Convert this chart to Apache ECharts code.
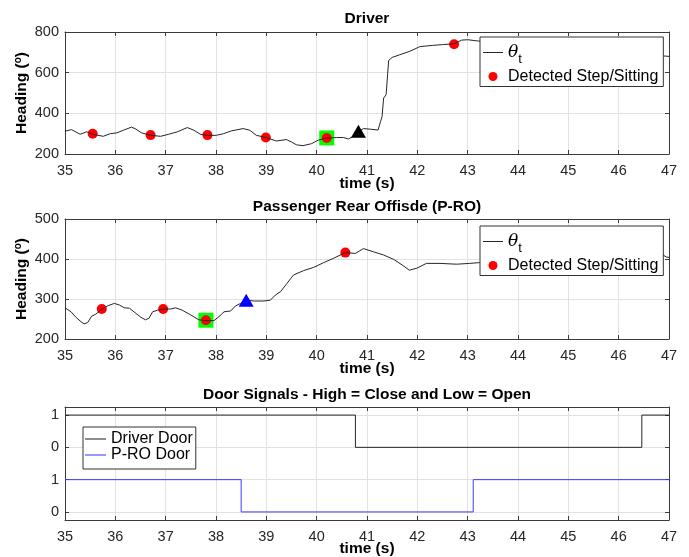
<!DOCTYPE html>
<html><head><meta charset="utf-8">
<script src="https://cdn.jsdelivr.net/npm/echarts@6.0.0/dist/echarts.min.js"></script>
<style>html,body{margin:0;padding:0;background:#fff}#c{width:689px;height:557px}</style>
</head><body><div id="c"></div>
<script>
// ---------- data ----------
const timeTicks = [35, 36, 37, 38, 39, 40, 41, 42, 43, 44, 45, 46, 47];
const driverHeadingTicks = [200, 400, 600, 800];
const passengerHeadingTicks = [200, 300, 400, 500];
const doorTickLabels = ['0', '1', '0', '1'];

const driverTime = [35.00,35.13,35.30,35.43,35.55,35.76,35.90,36.03,36.16,36.32,36.39,36.52,36.70,36.90,37.06,37.23,37.43,37.56,37.69,37.83,38.01,38.15,38.31,38.54,38.67,38.80,38.99,39.20,39.40,39.50,39.60,39.73,39.90,40.03,40.18,40.40,40.53,40.63,40.73,40.83,40.93,41.07,41.22,41.27,41.30,41.33,41.38,41.43,41.50,41.65,41.85,42.05,42.30,42.50,42.73,42.88,43.00,43.20,43.50,44.00,44.50,45.00,45.50,46.00,46.50,46.90,47.00];
const driverHeading = [312,320,297,309,297,287,300,304,317,332,325,304,292,287,297,309,330,317,297,291,292,300,314,325,317,292,281,264,271,259,245,241,251,268,278,281,281,274,287,310,325,322,318,360,385,475,492,660,675,688,705,728,734,738,742,760,762,756,750,742,735,725,712,700,688,682,680];

const passengerTime = [35.00,35.12,35.22,35.32,35.38,35.45,35.53,35.61,35.73,35.85,35.98,36.08,36.18,36.28,36.41,36.51,36.60,36.67,36.74,36.84,36.95,37.10,37.20,37.33,37.50,37.66,37.80,37.96,38.06,38.16,38.29,38.39,38.49,38.60,38.76,38.95,39.08,39.18,39.28,39.41,39.54,39.74,39.94,40.14,40.34,40.57,40.77,40.93,41.13,41.33,41.53,41.70,41.84,41.99,42.18,42.45,42.78,43.04,43.24,43.60,44.00,44.50,45.00,45.50,46.00,46.50,46.85,46.95,47.00];
const passengerHeading = [278,268,254,243,238,241,257,262,274,283,289,285,278,277,264,254,248,252,268,272,275,275,278,272,260,248,246,246,256,268,270,283,289,297,295,295,297,310,318,339,360,371,379,391,402,416,414,426,418,410,399,385,372,377,389,389,387,389,391,392,394,396,398,400,403,408,412,405,404];

const driverStepTime = [35.55, 36.70, 37.83, 38.99, 40.20, 42.73];
const driverStepHeading = [300, 293, 293, 281, 279, 740];
const driverSquareTime = [40.20];
const driverSquareHeading = [279];
const driverTriangleTime = [40.83];
const driverTriangleHeading = [312];

const passengerStepTime = [35.73, 36.95, 37.80, 40.57];
const passengerStepHeading = [275, 275, 247, 416];
const passengerSquareTime = [37.80];
const passengerSquareHeading = [247];
const passengerTriangleTime = [38.60];
const passengerTriangleHeading = [297];

const driverDoorTime = [35, 40.77, 46.46, 47];
const driverDoorState = [1, 0, 1, 1];
const proDoorTime = [35, 38.50, 43.11, 47];
const proDoorState = [1, 0, 1, 1];

// ---------- helpers ----------
const FONT = "'Liberation Sans', Arial, Helvetica, sans-serif";
const AX = '#3a3a3a';
const GRIDC = '#e2e2e2';
const TXT = '#262626';
const pair = (xs, ys, off) => xs.map((x, i) => [x, ys[i] + (off || 0)]);

const grids = [
  {left: 65, right: 20, top: 32, height: 122},
  {left: 65, right: 20, top: 219, height: 120},
  {left: 65, right: 20, top: 407, height: 113}
];

const xAxes = [], yAxes = [];
grids.forEach((g, gi) => {
  xAxes.push({
    type: 'value', gridIndex: gi, position: 'bottom', min: timeTicks[0], max: timeTicks[timeTicks.length - 1], interval: 1,
    axisLine: {show: true, onZero: false, lineStyle: {color: AX, width: 1}},
    axisTick: {show: true, inside: true, length: 4, lineStyle: {color: AX}},
    axisLabel: {margin: 9, fontSize: 14.5, fontFamily: FONT, color: TXT},
    splitLine: {show: true, lineStyle: {color: GRIDC, width: 1}}
  });
  xAxes.push({
    type: 'value', gridIndex: gi, position: 'top', min: timeTicks[0], max: timeTicks[timeTicks.length - 1], interval: 1,
    axisLine: {show: true, onZero: false, lineStyle: {color: AX, width: 1}},
    axisTick: {show: true, inside: true, length: 4, lineStyle: {color: AX}},
    axisLabel: {show: false}, splitLine: {show: false}
  });
});
const headingName = '{b|Heading (}{s|o}{b|)}';
const headingNameStyle = {
  fontFamily: FONT, color: '#000',
  rich: {
    b: {fontFamily: FONT, fontSize: 15.5, fontWeight: 'bold', color: '#000', lineHeight: 17, verticalAlign: 'bottom'},
    s: {fontFamily: FONT, fontSize: 10, fontWeight: 'bold', color: '#000', lineHeight: 17, verticalAlign: 'top'}
  }
};
const yTicksSets = [driverHeadingTicks, passengerHeadingTicks];
yTicksSets.forEach((t, gi) => {
  yAxes.push({
    type: 'value', gridIndex: gi, position: 'left', min: t[0], max: t[t.length - 1], interval: t[1] - t[0],
    name: headingName, nameLocation: 'middle', nameRotate: 90, nameGap: 35, nameMoveOverlap: false,
    nameTextStyle: headingNameStyle,
    axisLine: {show: true, onZero: false, lineStyle: {color: AX, width: 1}},
    axisTick: {show: true, inside: true, length: 4, lineStyle: {color: AX}},
    axisLabel: {margin: 6, fontSize: 14.5, fontFamily: FONT, color: TXT},
    splitLine: {show: true, lineStyle: {color: GRIDC, width: 1}}
  });
  yAxes.push({
    type: 'value', gridIndex: gi, position: 'right', min: t[0], max: t[t.length - 1], interval: t[1] - t[0],
    axisLine: {show: true, onZero: false, lineStyle: {color: AX, width: 1}},
    axisTick: {show: true, inside: true, length: 4, lineStyle: {color: AX}},
    axisLabel: {show: false}, splitLine: {show: false}
  });
});
const doorTickValues = [0, 1, 2, 3];
yAxes.push({
  type: 'value', gridIndex: 2, position: 'left', min: -0.25, max: 3.25,
  axisLine: {show: true, onZero: false, lineStyle: {color: AX, width: 1}},
  axisTick: {show: true, inside: true, length: 4, lineStyle: {color: AX}, customValues: doorTickValues},
  axisLabel: {margin: 6, fontSize: 14.5, fontFamily: FONT, color: TXT, customValues: doorTickValues,
    formatter: v => doorTickLabels[Math.round(v)]},
  splitLine: {show: true, lineStyle: {color: GRIDC, width: 1}}
});
yAxes.push({
  type: 'value', gridIndex: 2, position: 'right', min: -0.25, max: 3.25,
  axisLine: {show: true, onZero: false, lineStyle: {color: AX, width: 1}},
  axisTick: {show: true, inside: true, length: 4, lineStyle: {color: AX}, customValues: doorTickValues},
  axisLabel: {show: false}, splitLine: {show: false}
});

function headingSeries(gi, t, h, st, sh, sqt, sqh, trt, trh, triColor) {
  const xi = gi * 2, yi = gi * 2;
  return [
    {type: 'scatter', name: 'start', xAxisIndex: xi, yAxisIndex: yi, z: 2, symbol: 'rect', symbolSize: 15,
      itemStyle: {color: '#00ff00', opacity: 1}, data: pair(sqt, sqh)},
    {type: 'scatter', name: 'Detected Step/Sitting', xAxisIndex: xi, yAxisIndex: yi, z: 3, symbol: 'circle', symbolSize: 10,
      itemStyle: {color: '#ff0000', opacity: 1}, data: pair(st, sh)},
    {type: 'line', name: 'θt', xAxisIndex: xi, yAxisIndex: yi, z: 4, symbol: 'none', showSymbol: false, smooth: false,
      lineStyle: {color: '#262626', width: 1}, itemStyle: {color: '#262626'}, data: pair(t, h)},
    {type: 'scatter', name: 'event', xAxisIndex: xi, yAxisIndex: yi, z: 5, symbol: 'triangle', symbolSize: [15, 13],
      itemStyle: {color: triColor, opacity: 1}, data: pair(trt, trh)}
  ];
}

const series = [].concat(
  headingSeries(0, driverTime, driverHeading, driverStepTime, driverStepHeading, driverSquareTime, driverSquareHeading, driverTriangleTime, driverTriangleHeading, '#000000'),
  headingSeries(1, passengerTime, passengerHeading, passengerStepTime, passengerStepHeading, passengerSquareTime, passengerSquareHeading, passengerTriangleTime, passengerTriangleHeading, '#0000ff'),
  [
    {type: 'line', name: 'Driver Door', xAxisIndex: 4, yAxisIndex: 4, step: 'end', symbol: 'none', showSymbol: false,
      lineStyle: {color: '#262626', width: 1}, itemStyle: {color: '#262626'}, data: pair(driverDoorTime, driverDoorState, 2)},
    {type: 'line', name: 'P-RO Door', xAxisIndex: 4, yAxisIndex: 4, step: 'end', symbol: 'none', showSymbol: false,
      lineStyle: {color: '#3a3aff', width: 1}, itemStyle: {color: '#3a3aff'}, data: pair(proDoorTime, proDoorState, 0)}
  ]
);

const LINE_ICON = 'path://M0,0H20V1H0Z';
const legendRich = {
  th: {fontFamily: "'DejaVu Serif', 'Liberation Serif', serif", fontStyle: 'italic', fontSize: 17, color: '#000', lineHeight: 26, verticalAlign: 'middle'},
  sub: {fontFamily: FONT, fontSize: 13, color: '#000', lineHeight: 26, verticalAlign: 'bottom'},
  n: {fontFamily: FONT, fontSize: 16, color: '#000'}
};
const legendFmt = name => name === 'θt' ? '{th|θ}{sub|t}' : '{n|' + name + '}';
function headingLegend(top) {
  return {
    data: [{name: 'θt', icon: LINE_ICON}, {name: 'Detected Step/Sitting', icon: 'circle'}],
    orient: 'vertical', left: 480, top: top, z: 20,
    itemWidth: 20, itemHeight: 9, itemGap: 3, padding: [7, 5, 2, 3],
    backgroundColor: '#fff', borderColor: '#333', borderWidth: 1, borderRadius: 0,
    selectedMode: false, formatter: legendFmt,
    textStyle: {fontFamily: FONT, fontSize: 16, color: '#000', rich: legendRich}
  };
}

const timeLabelStyle = {fontFamily: FONT, fontSize: 15.5, fontWeight: 'bold', fill: '#000', align: 'center', verticalAlign: 'middle'};
const timeLabelY = [184, 369, 549];

const option = {
  animation: false,
  backgroundColor: '#fff',
  title: [
    {text: 'Driver', left: 367, top: 11, textAlign: 'center', padding: 0,
      textStyle: {fontFamily: FONT, fontSize: 15.5, fontWeight: 'bold', color: '#000'}},
    {text: 'Passenger Rear Offisde (P-RO)', left: 367, top: 199, textAlign: 'center', padding: 0,
      textStyle: {fontFamily: FONT, fontSize: 15.5, fontWeight: 'bold', color: '#000'}},
    {text: 'Door Signals - High = Close and Low = Open', left: 367, top: 387, textAlign: 'center', padding: 0,
      textStyle: {fontFamily: FONT, fontSize: 15.5, fontWeight: 'bold', color: '#000'}}
  ],
  grid: grids,
  xAxis: xAxes,
  yAxis: yAxes,
  graphic: timeLabelY.map(y => ({
    type: 'text', x: 367, y: y, z: 10,
    style: Object.assign({text: 'time (s)'}, timeLabelStyle)
  })),
  legend: [
    headingLegend(37),
    headingLegend(226),
    {
      data: [{name: 'Driver Door', icon: LINE_ICON}, {name: 'P-RO Door', icon: LINE_ICON}],
      orient: 'vertical', left: 83, top: 427, z: 20,
      itemWidth: 21, itemHeight: 9, itemGap: 0, padding: [4, 3, 6, 2],
      backgroundColor: '#fff', borderColor: '#333', borderWidth: 1, borderRadius: 0,
      selectedMode: false,
      textStyle: {fontFamily: FONT, fontSize: 16, color: '#000'}
    }
  ],
  series: series
};

const chart = echarts.init(document.getElementById('c'), null, {renderer: 'canvas'});
chart.setOption(option);
</script>
</body></html>
